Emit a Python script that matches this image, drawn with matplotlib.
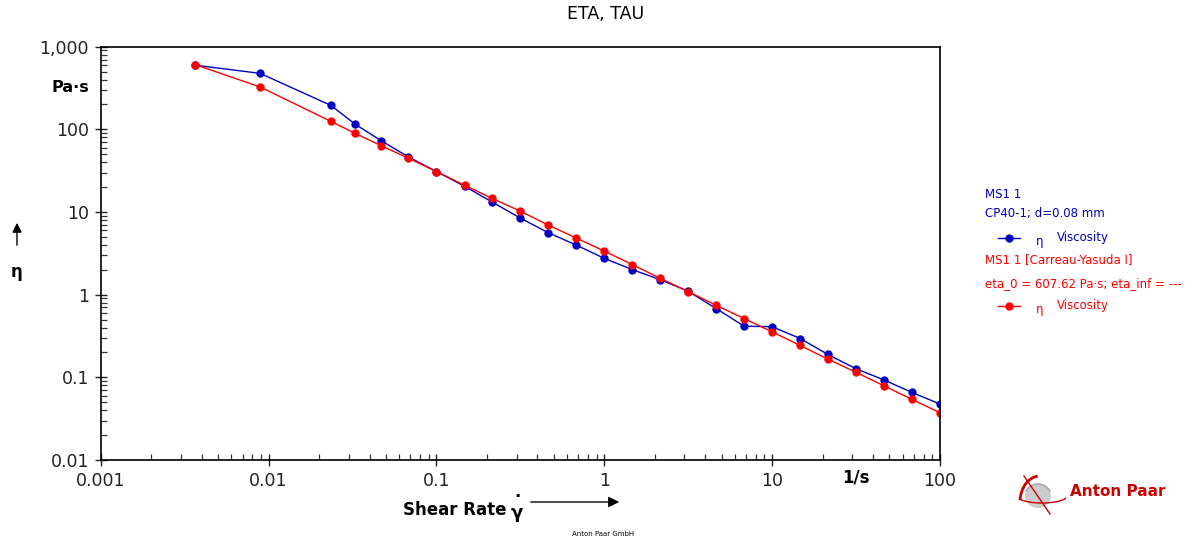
import numpy as np
import matplotlib
matplotlib.use('Agg')
import matplotlib.pyplot as plt
from matplotlib.lines import Line2D
from matplotlib.patches import Ellipse, Arc
from matplotlib.ticker import LogLocator, FuncFormatter, NullFormatter

plt.rcParams['font.family'] = ['DejaVu Sans']

# shear rate [1/s]
shear_rate = [0.00365, 0.0089, 0.0235, 0.0327, 0.0467, 0.068, 0.1, 0.147, 0.215,
              0.316, 0.464, 0.681, 1.0, 1.47, 2.15, 3.16, 4.64, 6.81, 10.0, 14.7,
              21.5, 31.6, 46.4, 68.1, 100.0]
# measured viscosity [Pa.s]
eta_measured = [598, 476, 195, 116, 73.2, 46.5, 30.9, 20.5, 13.2, 8.44, 5.62, 3.98,
                2.75, 2.01, 1.52, 1.10, 0.68, 0.415, 0.41, 0.295, 0.189, 0.127,
                0.093, 0.0657, 0.0475]
# Carreau-Yasuda fit [Pa.s]
eta_fit = [607.62, 326, 125, 89.7, 63.7, 44.8, 30.9, 21.1, 14.6, 10.25, 6.95, 4.84,
           3.37, 2.31, 1.58, 1.09, 0.745, 0.514, 0.355, 0.243, 0.166, 0.115, 0.079,
           0.054, 0.0373]

BLUE = '#0000c0'
RED = '#ff0000'
W, H = 1192, 542


def fx(px):
    return px / W


def fy(py):
    return 1 - py / H


def main():
    fig = plt.figure(figsize=(W / 100, H / 100), dpi=100)
    ax = fig.add_axes([fx(100.7), fy(460), fx(940) - fx(100.7), fy(46.7) - fy(460)])

    ax.plot(shear_rate, eta_measured, color=BLUE, marker='o', markersize=6,
            linewidth=1, markeredgewidth=0)
    ax.plot(shear_rate, eta_fit, color=RED, marker='o', markersize=6,
            linewidth=1, markeredgewidth=0)

    ax.set_xscale('log')
    ax.set_yscale('log')
    ax.set_xlim(0.001, 100)
    ax.set_ylim(0.01, 1000)

    ax.xaxis.set_major_locator(LogLocator(base=10, numticks=10))
    ax.yaxis.set_major_locator(LogLocator(base=10, numticks=10))
    ax.xaxis.set_minor_locator(LogLocator(base=10, subs=np.arange(2, 10), numticks=20))
    ax.yaxis.set_minor_locator(LogLocator(base=10, subs=np.arange(2, 10), numticks=20))
    ax.xaxis.set_minor_formatter(NullFormatter())
    ax.yaxis.set_minor_formatter(NullFormatter())

    def fmt(v, pos):
        if v >= 1:
            return '{:,.0f}'.format(v)
        return ('%.3f' % v).rstrip('0')

    ax.xaxis.set_major_formatter(FuncFormatter(fmt))
    ax.yaxis.set_major_formatter(FuncFormatter(fmt))

    ax.tick_params(which='major', direction='inout', length=9, width=1,
                   labelsize=12.5, colors='#222222', pad=4)
    ax.tick_params(which='minor', direction='in', length=4, width=0.9, colors='#333333')
    ax.tick_params(top=False, right=False, which='both')
    for s in ax.spines.values():
        s.set_linewidth(1.2)
        s.set_color('black')

    # axis texts
    fig.text(fx(606), fy(14), 'ETA, TAU', ha='center', va='center', fontsize=12.5)
    fig.text(fx(70), fy(88), 'Pa·s', ha='center', va='center', fontsize=11.5,
             fontweight='bold')
    fig.text(fx(17), fy(272), 'η', ha='center', va='center', fontsize=12,
             fontweight='bold')
    fig.add_artist(plt.Annotation('', xy=(fx(17), fy(220)), xytext=(fx(17), fy(248)),
                                  xycoords='figure fraction', textcoords='figure fraction',
                                  arrowprops=dict(arrowstyle='-|>', color='black',
                                                  lw=1, mutation_scale=14)))
    fig.text(fx(403), fy(510), 'Shear Rate', ha='left', va='center', fontsize=12,
             fontweight='bold')
    fig.text(fx(517), fy(513), 'γ', ha='center', va='center', fontsize=13,
             fontweight='bold')
    fig.text(fx(517), fy(497), '·', ha='center', va='center', fontsize=12,
             fontweight='bold')
    fig.add_artist(plt.Annotation('', xy=(fx(622), fy(502)), xytext=(fx(528), fy(502)),
                                  xycoords='figure fraction', textcoords='figure fraction',
                                  arrowprops=dict(arrowstyle='-|>', color='black',
                                                  lw=1, mutation_scale=16)))
    fig.text(fx(856), fy(478), '1/s', ha='center', va='center', fontsize=12,
             fontweight='bold')
    fig.text(fx(603), fy(534), 'Anton Paar GmbH', ha='center', va='center', fontsize=5)

    # legend block
    lx = 985
    fs = 8.5
    fig.text(fx(lx), fy(195), 'MS1 1', color=BLUE, fontsize=fs, va='center')
    fig.text(fx(lx), fy(214), 'CP40-1; d=0.08 mm', color=BLUE, fontsize=fs, va='center')
    fig.text(fx(lx), fy(260), 'MS1 1 [Carreau-Yasuda I]', color=RED, fontsize=fs,
             va='center')
    fig.text(fx(lx), fy(284), 'eta_0 = 607.62 Pa·s; eta_inf = ---', color=RED,
             fontsize=fs, va='center')
    for yy, c in ((238, BLUE), (306, RED)):
        fig.add_artist(Line2D([fx(998), fx(1020)], [fy(yy), fy(yy)], color=c, lw=1))
        fig.add_artist(Line2D([fx(1009)], [fy(yy)], color=c, marker='o',
                              markersize=6, markeredgewidth=0))
        fig.text(fx(1036), fy(yy + 3), 'η', color=c, fontsize=fs, va='center')
        fig.text(fx(1057), fy(yy), 'Viscosity', color=c, fontsize=fs, va='center')

    # logo
    lax = fig.add_axes([fx(1010), fy(516), fx(1066) - fx(1010), fy(474) - fy(516)])
    lax.set_xlim(0, 56)
    lax.set_ylim(0, 42)
    lax.axis('off')
    lax.add_patch(Ellipse((28, 20), 26, 24, color='#cccccc', lw=0))
    lax.add_patch(Arc((28, 20), 26, 24, theta1=20, theta2=160, color='#aaaaaa', lw=1.2))
    lax.add_patch(Arc((30, 14), 40, 52, theta1=95, theta2=175, color='#cc0000', lw=2))
    lax.add_patch(Arc((32, 20), 50, 14, theta1=190, theta2=360, color='#cc0000', lw=1))
    lax.plot([14, 40], [40, 2], color='#cc0000', lw=1)
    fig.text(fx(1070), fy(492), 'Anton Paar', color='#cc0000', fontsize=11,
             fontweight='bold', va='center')

    fig.savefig('out.png', dpi=100)


if __name__ == '__main__':
    main()
